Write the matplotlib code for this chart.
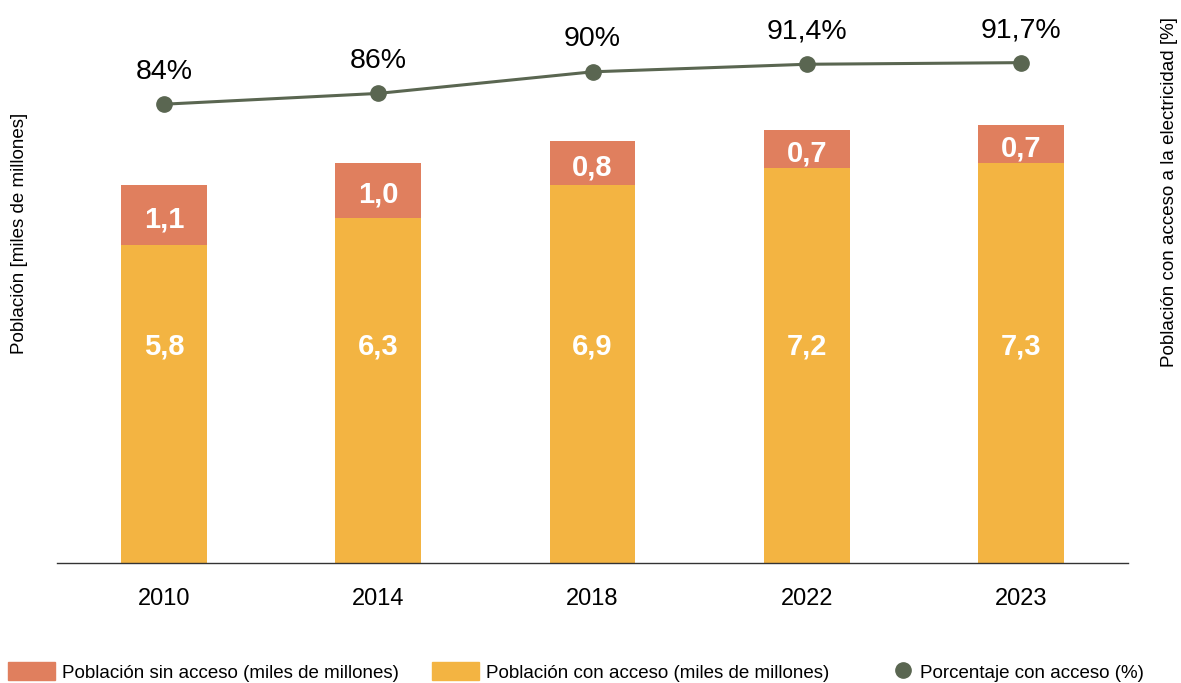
import matplotlib
matplotlib.use("Agg")
import matplotlib.pyplot as plt
from matplotlib.lines import Line2D
from matplotlib.patches import Patch

plt.rcParams['font.family'] = ['Liberation Sans', 'DejaVu Sans']

# datos
years = ['2010', '2014', '2018', '2022', '2023']
con_acceso = [5.8, 6.3, 6.9, 7.2, 7.3]
sin_acceso = [1.1, 1.0, 0.8, 0.7, 0.7]
porcentaje = [84, 86, 90, 91.4, 91.7]
pct_labels = ['84%', '86%', '90%', '91,4%', '91,7%']

c_sin = '#E07F5E'
c_con = '#F3B442'
c_line = '#5A6651'

fig = plt.figure(figsize=(11.81, 6.83), dpi=100)
ax = fig.add_axes([57/1181, 1 - 563/683, 1071/1181, 543/683])

x = list(range(len(years)))
ax.bar(x, con_acceso, width=0.40, color=c_con, zorder=2)
ax.bar(x, sin_acceso, width=0.40, bottom=con_acceso, color=c_sin, zorder=2)

for i in x:
    # etiquetas de las barras amarillas a altura fija
    ax.text(i, 3.95, f'{con_acceso[i]:.1f}'.replace('.', ','),
            ha='center', va='center', color='white', fontsize=21, fontweight='bold')
    ax.text(i, con_acceso[i] + sin_acceso[i] / 2 - 0.08, f'{sin_acceso[i]:.1f}'.replace('.', ','),
            ha='center', va='center', color='white', fontsize=21, fontweight='bold')

ax.set_xlim(-0.5, 4.5)
ax.set_ylim(0, 543 / 54.8)
ax.set_xticks(x)
ax.set_xticklabels(years, fontsize=17)
ax.tick_params(axis='x', length=0, pad=18)
ax.set_yticks([])
for s in ['top', 'right', 'left']:
    ax.spines[s].set_visible(False)
ax.spines['bottom'].set_color('#333333')
ax.spines['bottom'].set_linewidth(1)

ax2 = ax.twinx()
ax2.plot(x, porcentaje, color=c_line, linewidth=2.2, marker='o', markersize=11, zorder=3)
for i in x:
    ax2.annotate(pct_labels[i], (i, porcentaje[i]), xytext=(0, 14), textcoords='offset points',
                 ha='center', va='bottom', fontsize=20.5)
ax2.set_ylim(-1.0, 99.6)
ax2.set_yticks([])
for s in ax2.spines.values():
    s.set_visible(False)

fig.text(20/1181, 1 - 233/683, 'Población [miles de millones]', rotation=90,
         ha='center', va='center', fontsize=13.5)
fig.text(1170/1181, 1 - 192/683, 'Población con acceso a la electricidad [%]', rotation=90,
         ha='center', va='center', fontsize=13.5)

# leyenda en tres partes
items = [
    (Patch(color=c_sin), 'Población sin acceso (miles de millones)', 8, 2.5),
    (Patch(color=c_con), 'Población con acceso (miles de millones)', 432, 2.5),
    (Line2D([], [], color=c_line, marker='o', linestyle='', markersize=11), 'Porcentaje con acceso (%)', 894, 1.0),
]
for h, lab, px, hl in items:
    fig.legend([h], [lab], loc='center left', bbox_to_anchor=(px/1181, 1 - 672/683),
               frameon=False, fontsize=13.5, handlelength=hl, handleheight=1.1,
               handletextpad=0.4, borderpad=0, borderaxespad=0)

fig.savefig('out.png', dpi=100)
